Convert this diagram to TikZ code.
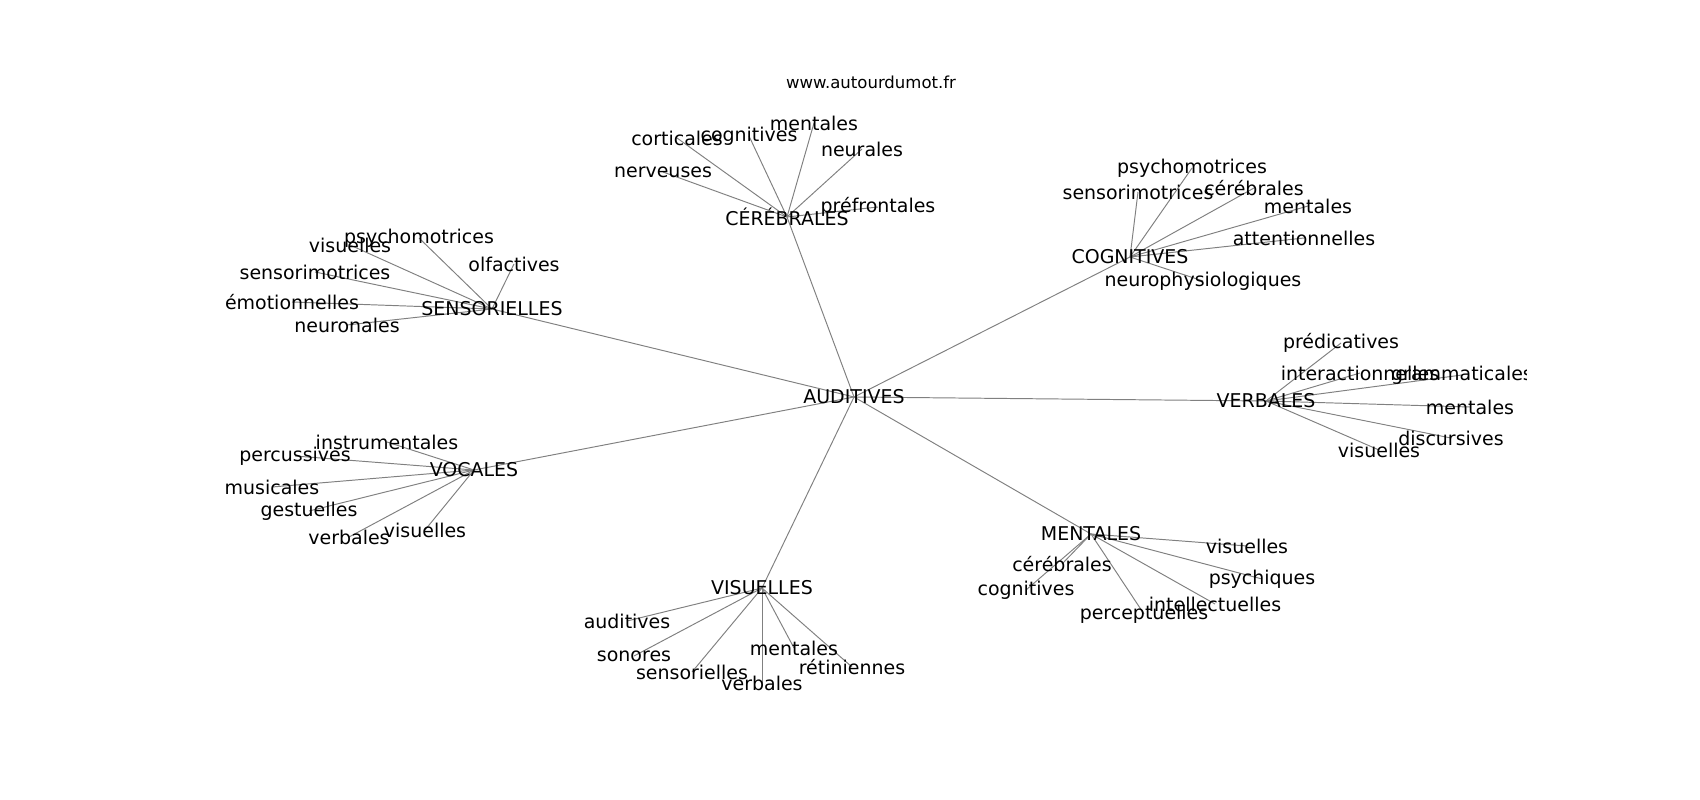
\documentclass[tikz,border=0pt]{standalone}
\usepackage{fontspec}
\setmainfont{DejaVu Sans}
\usetikzlibrary{backgrounds}
\begin{document}
\begin{tikzpicture}[x=0.02cm,y=-0.02cm,
  lbl/.style={inner sep=0pt,font=\fontsize{10.8}{13}\selectfont},
  edge/.style={black!50,line width=0.55pt}]
\useasboundingbox (0,0) rectangle (1700,800);
\node[inner sep=0pt,font=\fontsize{9.4}{11}\selectfont] (title) at (871,82) {www.autourdumot.fr};
\begin{scope}
\clip (212,96) rectangle (1526,712);
\node[lbl] (aud) at (854,397) {AUDITIVES};
% CEREBRALES
\node[lbl] (ceb) at (787,217) {CÉRÉBRALES};
\node[lbl] (ceb1) at (814,123) {mentales};
\node[lbl] (ceb2) at (749,136) {cognitives};
\node[lbl] (ceb3) at (677,138) {corticales};
\node[lbl] (ceb4) at (862,149) {neurales};
\node[lbl] (ceb5) at (663,172) {nerveuses};
\node[lbl] (ceb6) at (878,207) {préfrontales};
% COGNITIVES
\node[lbl] (cog) at (1130,257) {COGNITIVES};
\node[lbl] (cog1) at (1192,168) {psychomotrices};
\node[lbl] (cog2) at (1138,192) {sensorimotrices};
\node[lbl] (cog3) at (1254,188) {cérébrales};
\node[lbl] (cog4) at (1308,206) {mentales};
\node[lbl] (cog5) at (1304,238) {attentionnelles};
\node[lbl] (cog6) at (1203,281) {neurophysiologiques};
% SENSORIELLES
\node[lbl] (sen) at (492,309) {SENSORIELLES};
\node[lbl] (sen1) at (350,245) {visuelles};
\node[lbl] (sen2) at (419,238) {psychomotrices};
\node[lbl] (sen3) at (514,264) {olfactives};
\node[lbl] (sen4) at (315,272) {sensorimotrices};
\node[lbl] (sen5) at (292,302) {émotionnelles};
\node[lbl] (sen6) at (347,325) {neuronales};
% VERBALES
\node[lbl] (ver) at (1266,401) {VERBALES};
\node[lbl] (ver1) at (1341,343) {prédicatives};
\node[lbl] (ver2) at (1360,373) {interactionnelles};
\node[lbl] (ver3) at (1462,375) {grammaticales};
\node[lbl] (ver4) at (1470,407) {mentales};
\node[lbl] (ver5) at (1451,438) {discursives};
\node[lbl] (ver6) at (1379,450) {visuelles};
% VOCALES
\node[lbl] (voc) at (474,470) {VOCALES};
\node[lbl] (voc1) at (387,442) {instrumentales};
\node[lbl] (voc2) at (295,456) {percussives};
\node[lbl] (voc3) at (272,487) {musicales};
\node[lbl] (voc4) at (309,511) {gestuelles};
\node[lbl] (voc5) at (349,537) {verbales};
\node[lbl] (voc6) at (425,530) {visuelles};
% VISUELLES
\node[lbl] (vis) at (762,588) {VISUELLES};
\node[lbl] (vis1) at (627,621) {auditives};
\node[lbl] (vis2) at (634,656) {sonores};
\node[lbl] (vis3) at (692,672) {sensorielles};
\node[lbl] (vis4) at (762,683) {verbales};
\node[lbl] (vis5) at (794,648) {mentales};
\node[lbl] (vis6) at (852,667) {rétiniennes};
% MENTALES
\node[lbl] (men) at (1091,534) {MENTALES};
\node[lbl] (men1) at (1247,546) {visuelles};
\node[lbl] (men2) at (1062,564) {cérébrales};
\node[lbl] (men3) at (1262,579) {psychiques};
\node[lbl] (men4) at (1026,590) {cognitives};
\node[lbl] (men5) at (1215,604) {intellectuelles};
\node[lbl] (men6) at (1144,614) {perceptuelles};
\end{scope}
\begin{scope}[on background layer]
\foreach \h in {ceb,cog,sen,ver,voc,vis,men}{
  \draw[edge] (aud.center)--(\h.center);
  \foreach \i in {1,...,6}
    \draw[edge] (\h.center)--(\h\i.center);
}
\end{scope}
\end{tikzpicture}
\end{document}
